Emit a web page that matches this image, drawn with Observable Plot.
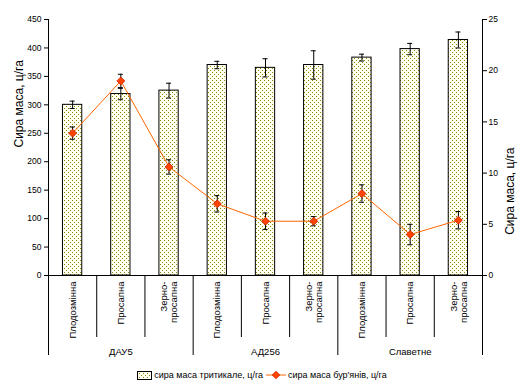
<!DOCTYPE html>
<html>
<head>
<meta charset="utf-8">
<script src="https://cdn.jsdelivr.net/npm/d3@7"></script>
<script src="https://cdn.jsdelivr.net/npm/@observablehq/plot@0.6"></script>
<style>
  html, body { margin: 0; padding: 0; background: #fff; }
  #chart { width: 524px; height: 386px; font-family: "Liberation Sans", Arial, sans-serif; }
  #legend { display: flex; justify-content: center; align-items: center; height: 22px; font-size: 9px; color: #000; }
  #legend svg { display: block; }
</style>
</head>
<body>
<div id="chart"></div>
<script>
// ---- data ----
const groups = ["ДАУ5", "АД256", "Славетне"];
const practices = ["Плодозмінна", "Просапна", "Зерно-\nпросапна"];
const triticale = [300, 319, 325, 370, 365, 370, 383, 398, 414];       // ц/га, left axis
const triticaleErr = [6.5, 10, 13, 6.5, 16, 25, 6, 10, 14];
const weeds = [13.9, 19.0, 10.6, 7.0, 5.3, 5.3, 8.0, 4.0, 5.4];         // ц/га, right axis
const weedsErr = [0.6, 0.65, 0.7, 0.8, 0.8, 0.45, 0.85, 1.0, 0.85];
const leftTicks = [0, 50, 100, 150, 200, 250, 300, 350, 400, 450];
const rightTicks = [0, 5, 10, 15, 20, 25];
const yLabel = "Сира маса, ц/га";
const legendLabels = ["сира маса тритикале, ц/га", "сира маса бур'янів, ц/га"];

// ---- derived ----
const ratio = 450 / 25; // right axis -> left axis
const rows = triticale.map((v, i) => ({
  i, group: groups[Math.floor(i / 3)], practice: practices[i % 3],
  tri: v, triErr: triticaleErr[i], weed: weeds[i] * ratio, weedErr: weedsErr[i] * ratio
}));
const boundaries = d3.range(0, rows.length + 1);
const innerBounds = boundaries.filter(b => b % 3 !== 0);
const outerBounds = boundaries.filter(b => b % 3 === 0);
const groupCenters = groups.map((g, k) => ({g, c: k * 3 + 1.5}));

const bg = "#fffff2", dotColor = "#8a8a00";
const patternDefs = () => {
  const defs = d3.create("svg:defs");
  const p = defs.append("pattern").attr("id", "dots").attr("width", 4).attr("height", 4)
    .attr("patternUnits", "userSpaceOnUse");
  p.append("rect").attr("width", 4).attr("height", 4).attr("fill", bg);
  p.append("rect").attr("x", 0).attr("y", 0).attr("width", 1).attr("height", 1).attr("fill", dotColor);
  p.append("rect").attr("x", 2).attr("y", 2).attr("width", 1).attr("height", 1).attr("fill", dotColor);
  return defs.node();
};

const cx = d => d.i + 0.5;

const plot = Plot.plot({
  width: 524,
  height: 364,
  marginLeft: 48,
  marginRight: 42,
  marginTop: 19,
  marginBottom: 89,
  style: {fontFamily: "Liberation Sans, Arial, sans-serif", fontSize: "8.5px", color: "#000", background: "#fff"},
  x: {type: "linear", domain: [0, rows.length], axis: null},
  y: {domain: [0, 450], axis: null},
  marks: [
    patternDefs,
    // bars
    Plot.rectY(rows, {x1: d => d.i + 0.3, x2: d => d.i + 0.7, y: "tri", fill: "url(#dots)", stroke: "#000", strokeWidth: 1}),
    // bar error bars
    Plot.ruleX(rows, {x: cx, y1: d => d.tri - d.triErr, y2: d => d.tri + d.triErr, stroke: "#000", strokeWidth: 1}),
    Plot.ruleY(rows, {x1: cx, x2: cx, y: d => d.tri - d.triErr, insetLeft: -2.5, insetRight: -2.5, stroke: "#000"}),
    Plot.ruleY(rows, {x1: cx, x2: cx, y: d => d.tri + d.triErr, insetLeft: -2.5, insetRight: -2.5, stroke: "#000"}),
    // weeds line
    Plot.line(rows, {x: cx, y: "weed", stroke: "#ff6600", strokeWidth: 1}),
    Plot.ruleX(rows, {x: cx, y1: d => d.weed - d.weedErr, y2: d => d.weed + d.weedErr, stroke: "#000", strokeWidth: 1}),
    Plot.ruleY(rows, {x1: cx, x2: cx, y: d => d.weed - d.weedErr, insetLeft: -2.5, insetRight: -2.5, stroke: "#000"}),
    Plot.ruleY(rows, {x1: cx, x2: cx, y: d => d.weed + d.weedErr, insetLeft: -2.5, insetRight: -2.5, stroke: "#000"}),
    Plot.dot(rows, {x: cx, y: "weed", symbol: "diamond2", r: 3.6, fill: "#ff4400", stroke: "#cc2200", strokeWidth: 0.8}),
    // axes lines
    Plot.ruleX([0, rows.length], {stroke: "#000"}),
    Plot.ruleY([0], {stroke: "#000"}),
    Plot.axisY(leftTicks, {anchor: "left", tickSize: 4, tickPadding: 3, label: null}),
    Plot.axisY(rightTicks.map(v => v * ratio), {anchor: "right", tickSize: 4, tickPadding: 2, tickFormat: d => d / ratio, label: null}),
    // category axis (two levels)
    Plot.ruleX(innerBounds, {x: d => d, y1: 0, y2: 0, insetBottom: -62, stroke: "#000"}),
    Plot.ruleX(outerBounds, {x: d => d, y1: 0, y2: 0, insetBottom: -80, stroke: "#000"}),
    Plot.text(rows, {x: cx, y: 0, text: "practice", rotate: -90, textAnchor: "end", lineAnchor: "middle", dy: 6, fontSize: 9.5, lineHeight: 1.05}),
    Plot.text(groupCenters, {x: "c", y: 0, text: "g", dy: 76, fontSize: 9.5}),
    // axis titles
    Plot.text([yLabel], {text: d => d, frameAnchor: "left", dx: -29, rotate: -90, fontSize: 12}),
    Plot.text([yLabel], {text: d => d, frameAnchor: "right", dx: 28, rotate: -90, fontSize: 12})
  ]
});

const chart = document.getElementById("chart");
chart.appendChild(plot);

const legend = document.createElement("div");
legend.id = "legend";
legend.innerHTML = `
  <svg width="15" height="9"><defs><pattern id="dotsL" width="4" height="4" patternUnits="userSpaceOnUse">
    <rect width="4" height="4" fill="${bg}"/><rect width="1" height="1" fill="${dotColor}"/><rect x="2" y="2" width="1" height="1" fill="${dotColor}"/></pattern></defs>
    <rect x="0.5" y="0.5" width="14" height="8" fill="url(#dotsL)" stroke="#000"/></svg>
  <span style="margin:0 3px 0 2px">${legendLabels[0]}</span>
  <svg width="20" height="10"><line x1="0" y1="5" x2="20" y2="5" stroke="#ff6600"/>
    <path d="M10,1.2 L13.8,5 L10,8.8 L6.2,5 Z" fill="#ff4400" stroke="#cc2200" stroke-width="0.8"/></svg>
  <span style="margin-left:2px">${legendLabels[1]}</span>`;
chart.appendChild(legend);
</script>
</body>
</html>
